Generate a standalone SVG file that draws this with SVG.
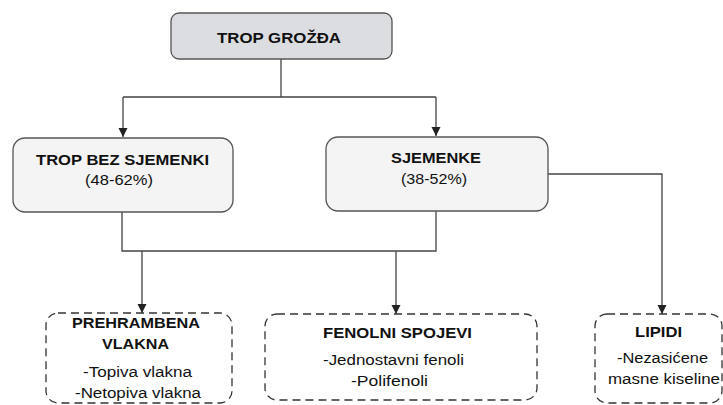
<svg xmlns="http://www.w3.org/2000/svg" width="723" height="405" viewBox="0 0 723 405">
<style>
  .t{font-family:"Liberation Sans",Arial,sans-serif;fill:#111;text-anchor:middle}
  .b{font-weight:bold;font-size:15.5px}
  .r{font-size:15.5px}
  .solid{stroke:#555;stroke-width:1.3}
  .dash{fill:#fff;stroke:#333;stroke-width:1.3;stroke-dasharray:8 5}
  .c{fill:none;stroke:#444;stroke-width:1.3}
</style>
<defs>
  <marker id="ar" viewBox="0 0 10 10" refX="10" refY="5" markerUnits="userSpaceOnUse" markerWidth="9" markerHeight="10" orient="auto">
    <path d="M0,0 L10,5 L0,10 z" fill="#222"/>
  </marker>
</defs>
<rect width="723" height="405" fill="#fff"/>
<g id="connectors">
  <path class="c" d="M281,59 V97 M123,97 H436"/>
  <path class="c" d="M123,97 V137" marker-end="url(#ar)"/>
  <path class="c" d="M436,97 V136" marker-end="url(#ar)"/>
  <path class="c" d="M122,212 V251 H436 V211"/>
  <path class="c" d="M142,251 V313" marker-end="url(#ar)"/>
  <path class="c" d="M396,251 V314" marker-end="url(#ar)"/>
  <path class="c" d="M548,174 H662 V314" marker-end="url(#ar)"/>
</g>
<g id="trop-grozda">
  <rect class="solid" x="171" y="13" width="221" height="46" rx="8" fill="#dcdde0"/>
  <text class="t b" x="279" y="43" textLength="124" lengthAdjust="spacingAndGlyphs">TROP GROŽĐA</text>
</g>
<g id="trop-bez-sjemenki">
  <rect class="solid" x="13" y="138" width="220" height="74" rx="12" fill="#f4f4f4"/>
  <text class="t b" x="122.5" y="165" textLength="173" lengthAdjust="spacingAndGlyphs">TROP BEZ SJEMENKI</text>
  <text class="t r" x="119" y="185" textLength="68" lengthAdjust="spacingAndGlyphs">(48-62%)</text>
</g>
<g id="sjemenke">
  <rect class="solid" x="326" y="137" width="222" height="74" rx="12" fill="#f4f4f4"/>
  <text class="t b" x="436" y="163" textLength="90" lengthAdjust="spacingAndGlyphs">SJEMENKE</text>
  <text class="t r" x="434" y="184" textLength="66" lengthAdjust="spacingAndGlyphs">(38-52%)</text>
</g>
<g id="prehrambena-vlakna">
  <rect class="dash" x="46" y="313" width="186" height="90" rx="12"/>
  <text class="t b" x="136" y="328" textLength="128" lengthAdjust="spacingAndGlyphs">PREHRAMBENA</text>
  <text class="t b" x="135.5" y="349" textLength="67" lengthAdjust="spacingAndGlyphs">VLAKNA</text>
  <text class="t r" x="137.5" y="377" textLength="109" lengthAdjust="spacingAndGlyphs">-Topiva vlakna</text>
  <text class="t r" x="138" y="398" textLength="126" lengthAdjust="spacingAndGlyphs">-Netopiva vlakna</text>
</g>
<g id="fenolni-spojevi">
  <rect class="dash" x="265" y="314" width="272" height="86" rx="12"/>
  <text class="t b" x="397.5" y="338" textLength="149" lengthAdjust="spacingAndGlyphs">FENOLNI SPOJEVI</text>
  <text class="t r" x="393.5" y="365" textLength="141" lengthAdjust="spacingAndGlyphs">-Jednostavni fenoli</text>
  <text class="t r" x="389.5" y="386" textLength="77" lengthAdjust="spacingAndGlyphs">-Polifenoli</text>
</g>
<g id="lipidi">
  <rect class="dash" x="595" y="314" width="127" height="89" rx="12"/>
  <text class="t b" x="658.5" y="337" textLength="47" lengthAdjust="spacingAndGlyphs">LIPIDI</text>
  <text class="t r" x="662.5" y="363" textLength="91" lengthAdjust="spacingAndGlyphs">-Nezasićene</text>
  <text class="t r" x="664" y="384" textLength="112" lengthAdjust="spacingAndGlyphs">masne kiseline</text>
</g>
</svg>
